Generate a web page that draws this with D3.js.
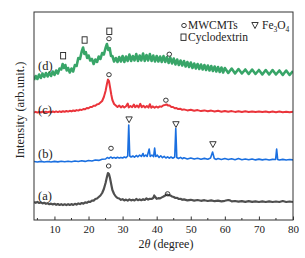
<!DOCTYPE html>
<html><head><meta charset="utf-8">
<script src="https://cdn.jsdelivr.net/npm/d3@7"></script>
<style>
html,body{margin:0;padding:0;background:#fff;}
svg{display:block;}
text{font-family:"Liberation Serif","Times New Roman",serif;fill:#222;}
</style></head>
<body>
<div id="chart"></div>
<script>
// ---- data (2θ in degrees, intensity in arbitrary units) ----
const seriesA = [[4,18],[4.5,17.2],[5,18.1],[5.5,17],[6,17.6],[6.5,16.6],[7,17.2],[7.5,16.2],[8,16.8],[8.5,15.8],[9,16.4],[9.5,15.5],[10,16.2],[10.5,15.2],[11,16],[11.5,15],[12,15.8],[12.5,14.9],[13,15.7],[13.5,14.9],[14,15.8],[14.5,15],[15,15.9],[15.5,15.1],[16,16.2],[16.5,15.4],[17,16.6],[17.5,15.9],[18,17],[18.5,16.4],[19,17.6],[19.5,17.2],[20,18.4],[20.5,18],[21,19.4],[21.5,19.4],[22,21],[22.5,21.5],[23,23],[23.5,24.5],[24,27],[24.5,31],[25,37],[25.4,43],[25.7,47],[26,46],[26.3,42],[26.7,35],[27,30],[27.5,26],[28,23.5],[28.5,22],[29,21.5],[29.5,20.2],[30,20.8],[30.5,19.6],[31,20.4],[31.5,19.4],[32,20.6],[32.5,19.6],[33,20.2],[33.5,19.5],[34,21],[34.5,19.8],[35,20.6],[35.5,19.8],[36,20.8],[36.5,20],[37,21.6],[37.5,20.4],[38,21.2],[38.5,21],[39,22],[39.3,24.5],[39.6,23],[40,21.2],[40.5,21.8],[41,21.6],[41.5,22.6],[42,23.5],[42.5,24.5],[43,25.5],[43.5,24.8],[44,24.6],[44.5,23.5],[45,23],[45.5,22],[46,22.2],[46.5,21],[47,21.2],[47.5,20.2],[48,20.6],[49,19.6],[50,20.2],[51,19.4],[52,20],[53,19.2],[54,19.8],[55,19],[56,19.6],[57,18.8],[58,19.4],[59,18.7],[60,19.2],[61,20],[61.5,19.6],[62,18.6],[63,19],[64,18.3],[65,18.9],[66,18.2],[67,18.8],[68,18.1],[69,18.7],[70,18],[71,18.6],[72,18],[73,18.6],[74,18],[75,18.5],[76,18],[77,19],[78,18],[79,18.5],[80,18]];

const seriesB = [[4,58.5],[5,58],[6,58.6],[7,58],[8,58.5],[9,58],[10,58.6],[11,58.1],[12,58.7],[13,58.2],[14,58.8],[15,58.3],[16,59],[17,58.5],[18,59.2],[19,58.6],[20,59.5],[21,59],[22,60],[23,59.6],[24,60.8],[25,61],[25.5,62.5],[26,61.6],[26.5,63],[27,61.8],[27.5,62.6],[28,61.8],[28.5,62.8],[29,61.9],[29.5,62.6],[30,62],[30.5,63],[31,62.2],[31.5,64],[31.8,95],[32.1,64],[32.5,63],[33,64],[33.5,62.8],[34,64.5],[34.5,63.2],[35,65],[35.5,63.5],[36,66.5],[36.3,63.5],[36.8,65],[37.2,63.5],[37.8,71],[38.1,63.5],[38.6,65],[39.1,63.4],[39.4,72],[39.7,63.5],[40.2,64.8],[40.7,62.5],[41.2,64.2],[41.7,62.3],[42.2,63.6],[42.7,62],[43.2,63.2],[43.7,61.8],[44.2,63],[44.8,61.8],[45.3,63],[45.6,91.5],[45.9,62.5],[46.4,61.5],[47,62.6],[47.5,61.3],[48,62.3],[49,61.1],[50,62],[51,60.9],[52,61.8],[53,60.8],[54,61.6],[55,60.8],[55.8,62],[56.4,68],[56.9,61.5],[57.5,60.6],[58,61.5],[59,60.5],[60,61.4],[61,60.4],[62,61.3],[63,60.3],[64,61.4],[65,60.3],[66,61],[67,60.2],[68,61],[69,60.1],[70,60.9],[71,60.1],[72,60.8],[73,60],[74,60.6],[74.9,60.5],[75.2,71],[75.5,60.6],[76,60],[77,60.6],[78,60],[79,60.5],[80,60.1]];

const seriesC = [[4,107.5],[4.5,108.2],[5,107.4],[5.5,108.2],[6,107.5],[6.5,108.3],[7,107.5],[7.5,108.3],[8,107.6],[8.5,108.4],[9,107.7],[9.5,108.5],[10,107.8],[10.5,108.6],[11,107.9],[11.5,108.7],[12,108],[12.5,108.8],[13,108.2],[13.5,109],[14,108.4],[14.5,109.2],[15,108.6],[15.5,109.5],[16,109],[16.5,109.9],[17,109.4],[17.5,110.4],[18,110],[18.5,111],[19,110.8],[19.5,112],[20,111.8],[20.5,113],[21,113],[21.5,114.2],[22,114.3],[22.5,115.6],[23,116],[23.5,117.5],[24,119],[24.5,123],[25,129],[25.4,136],[25.7,140.5],[26,139],[26.3,133],[26.7,125],[27,120],[27.5,116],[28,114.5],[28.5,113],[29,114.5],[29.5,112.6],[30,114],[30.5,112.5],[31,113.8],[31.5,116.5],[31.8,112.6],[32.3,114],[32.8,112.8],[33.3,115.5],[33.7,112.8],[34.2,114.5],[34.7,112.6],[35.2,116.2],[35.6,112.8],[36.1,114.2],[36.6,112.5],[37.1,113.9],[37.6,112.4],[38,115.8],[38.4,112.3],[38.9,113.6],[39.4,112.2],[39.9,113.5],[40.4,112.4],[40.9,113.6],[41.4,113.2],[41.9,114.6],[42.4,115],[42.9,115.6],[43.3,114.6],[43.8,114.4],[44.3,113],[44.8,113],[45.3,111.8],[45.8,112],[46.3,110.9],[47,111.2],[47.5,110.2],[48,110.6],[49,109.6],[50,110.2],[51,109.2],[52,109.9],[53,108.9],[54,109.6],[55,108.7],[56,109.4],[57,108.5],[58,109.2],[59,108.3],[60,109],[61,108.2],[62,108.9],[63,108.1],[64,108.8],[65,108],[66,108.7],[67,108],[68,108.6],[69,107.9],[70,108.5],[71,107.9],[72,108.5],[73,107.8],[74,108.4],[75,107.8],[76,108.4],[77,107.8],[78,108.3],[79,107.8],[80,108.3]];

const seriesD = [[4,140],[4.5,144],[5,141],[5.5,145.5],[6,142],[6.5,146.5],[7,143],[7.5,147],[8,143.5],[8.5,147.5],[9,144],[9.5,148.5],[10,145],[10.5,149.5],[11,146.5],[11.5,151.5],[12,150.5],[12.4,156],[12.8,152],[13.2,155],[13.6,149.5],[14,152],[14.5,147.5],[15,151.5],[15.5,148.5],[16,155],[16.5,154],[17,162],[17.5,161],[18,168.5],[18.4,172.5],[18.8,166],[19.2,168],[19.6,162],[20,164.5],[20.5,159.5],[21,161],[21.5,156],[22,160.5],[22.5,158],[23,163.5],[23.5,161],[24,167],[24.5,165.5],[25,172],[25.4,176],[25.8,170],[26.2,172],[26.6,164],[27,164],[27.5,158.5],[28,162],[28.5,158],[29,163],[29.5,158.5],[30,164],[30.5,158],[31,163.5],[31.5,159],[32,165.5],[32.5,159],[33,164],[33.5,159.5],[34,166],[34.5,159],[35,164.5],[35.5,159.5],[36,166.5],[36.5,159],[37,165],[37.5,159.5],[38,166],[38.5,159],[39,164.5],[39.5,158.5],[40,164],[40.5,158.5],[41,163.5],[41.5,158],[42,164],[42.5,158],[43,163],[43.5,157],[44,162.5],[44.5,156.5],[45,161.5],[45.5,155.5],[46,160.5],[46.5,155],[47,159.5],[47.5,154.5],[48,159],[48.5,153.5],[49,158],[49.5,153],[50,157.5],[50.5,152],[51,156.5],[51.5,151.5],[52,156],[52.5,151],[53,155.5],[53.5,150.5],[54,155],[54.5,150],[55,154.5],[55.5,149.5],[56,154],[56.5,149],[57,153.5],[57.5,148.5],[58,153],[58.5,148],[59,152.5],[59.5,147.5],[60,152],[61,147],[62,151.5],[63,146.5],[64,151],[65,146.5],[66,150.5],[67,146],[68,150.5],[69,146],[70,150],[71,145.5],[72,150],[73,145.5],[74,150],[75,145.5],[76,149.5],[77,145],[78,149.5],[79,145],[80,149]];

const seriesNames = ["(a)", "(b)", "(c)", "(d)"];
const seriesColors = ["#4f4f4f", "#1a6fe0", "#ea343b", "#38a568"];
const seriesLabelY = [24, 66, 110, 154];   // intensity level where each "(x)" label sits

// peak markers [2θ, intensity]
const circleMarks = [[25.9,54],[43.2,26.2],[26.6,71.7],[26,145.3],[42.7,119.8],[26,181.3],[43.7,165.8]];
const triangleMarks = [[31.9,100.3],[45.65,95.5],[56.5,75.5]];
const squareMarks = [[12.55,164.3],[18.85,180],[26.1,188.7]];

const xTicks = [10,20,30,40,50,60,70,80];
const xMinorTicks = [5,15,25,35,45,55,65,75];

// ---- drawing ----
const W = 305, H = 258;
const L = 34, R = 293, T = 12, B = 220;
const svg = d3.select("#chart").append("svg").attr("width", W).attr("height", H);

const x = d3.scaleLinear().domain([4, 80]).range([L, R]);
const y = d3.scaleLinear().domain([0, 208]).range([B, T]);

svg.append("clipPath").attr("id","clip").append("rect")
  .attr("x", L).attr("y", T).attr("width", R - L).attr("height", B - T);

const line = d3.line().x(d => x(d[0])).y(d => y(d[1]));
const allSeries = [seriesA, seriesB, seriesC, seriesD];
const widths = [2.2, 1.6, 2.0, 2.6];
const g = svg.append("g").attr("clip-path", "url(#clip)");
allSeries.forEach((s, i) => {
  g.append("path").datum(s).attr("d", line)
    .attr("fill", "none").attr("stroke", seriesColors[i])
    .attr("stroke-width", widths[i]).attr("stroke-linejoin", "round");
});

// frame
svg.append("rect").attr("x", L).attr("y", T).attr("width", R - L).attr("height", B - T)
  .attr("fill", "none").attr("stroke", "#333").attr("stroke-width", 1);

// x axis ticks (inward) and labels
const ax = svg.append("g").attr("transform", `translate(0,${B})`);
ax.call(d3.axisBottom(x).tickValues(xTicks).tickSize(-3.5).tickPadding(5).tickFormat(d3.format("d")));
ax.select(".domain").remove();
ax.selectAll(".tick line").attr("stroke", "#333");
ax.selectAll(".tick text").style("font-family", "'Liberation Serif','Times New Roman',serif")
  .style("font-size", "11px").attr("fill", "#222");
svg.append("g").selectAll("line").data(xMinorTicks).join("line")
  .attr("x1", d => x(d)).attr("x2", d => x(d)).attr("y1", B).attr("y2", B - 2)
  .attr("stroke", "#333");

// axis titles
const xt = svg.append("text").attr("x", 166).attr("y", 248).attr("text-anchor", "middle")
  .style("font-size", "12px");
xt.append("tspan").text("2");
xt.append("tspan").attr("font-style", "italic").text("θ");
xt.append("tspan").text(" (degree)");

svg.append("text").attr("transform", "translate(24,110) rotate(-90)")
  .attr("text-anchor", "middle").style("font-size", "12.5px").text("Intensity (arb.unit.)");

// series labels
seriesNames.forEach((n, i) => {
  svg.append("text").attr("x", 38).attr("y", y(seriesLabelY[i]) + 4)
    .style("font-size", "12.5px").text(n);
});

// markers
const mk = svg.append("g").attr("fill", "none").attr("stroke", "#222").attr("stroke-width", 0.9);
mk.selectAll("ellipse").data(circleMarks).join("ellipse")
  .attr("cx", d => x(d[0])).attr("cy", d => y(d[1])).attr("rx", 2.3).attr("ry", 2.1);
mk.selectAll("rect.sq").data(squareMarks).join("rect").attr("class", "sq")
  .attr("x", d => x(d[0]) - 2.5).attr("y", d => y(d[1]) - 3.2).attr("width", 5).attr("height", 6.4);
mk.selectAll("path.tri").data(triangleMarks).join("path").attr("class", "tri")
  .attr("d", d => { const cx = x(d[0]), cy = y(d[1]); return `M${cx-3.2},${cy-2.8}L${cx+3.2},${cy-2.8}L${cx},${cy+3}Z`; });

// legend
const lg = svg.append("g");
lg.append("ellipse").attr("cx", 184).attr("cy", 25.5).attr("rx", 2.3).attr("ry", 2.1)
  .attr("fill", "none").attr("stroke", "#222").attr("stroke-width", 0.9);
lg.append("text").attr("x", 188).attr("y", 29).style("font-size", "11.5px").text("MWCMTs");
lg.append("path").attr("d", "M251.8,22.5L258.2,22.5L255,28.5Z")
  .attr("fill", "none").attr("stroke", "#222").attr("stroke-width", 0.9);
const fe = lg.append("text").attr("x", 262).attr("y", 29).style("font-size", "11.5px");
fe.append("tspan").text("Fe");
fe.append("tspan").attr("dy", 2.5).style("font-size", "7.5px").text("3");
fe.append("tspan").attr("dy", -2.5).text("O");
fe.append("tspan").attr("dy", 2.5).style("font-size", "7.5px").text("4");
lg.append("rect").attr("x", 181).attr("y", 34).attr("width", 5).attr("height", 6.4)
  .attr("fill", "none").attr("stroke", "#222").attr("stroke-width", 0.9);
lg.append("text").attr("x", 188).attr("y", 41).style("font-size", "11.5px").text("Cyclodextrin");
</script>
</body></html>
